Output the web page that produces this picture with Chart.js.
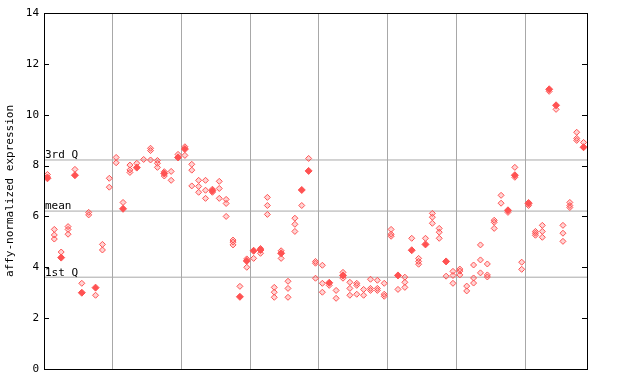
<!DOCTYPE html>
<html>
<head>
<meta charset="utf-8">
<script src="https://cdn.jsdelivr.net/npm/chart.js@4/dist/chart.umd.min.js"></script>
<style>
html,body{margin:0;padding:0;background:#fff;}
#wrap{width:640px;height:384px;position:relative;}
</style>
</head>
<body>
<div id="wrap"><canvas id="c" width="640" height="384"></canvas></div>
<script>
// Sample columns (79 samples), hollow replicate values per sample
const replicateValues = [
  [7.65, 7.55], [5.49, 5.27, 5.11], [4.60], [5.60, 5.49, 5.30], [7.85],
  [3.37], [6.16, 6.06], [2.90], [4.90, 4.68], [7.50, 7.15],
  [8.32, 8.11], [6.55], [8.02, 7.83, 7.73], [8.09], [8.24],
  [8.68, 8.59, 8.22], [8.20, 8.09, 7.93], [7.76, 7.59], [7.77, 7.42], [8.44],
  [8.74, 8.40], [8.05, 7.82, 7.20], [7.42, 7.18, 6.95], [7.42, 7.03, 6.71], [7.07, 6.95],
  [7.38, 7.10, 6.71], [6.67, 6.51, 6.00], [5.07, 4.99, 4.88], [3.25], [4.33, 4.00],
  [4.35], [4.74, 4.55], [6.75, 6.43, 6.08], [3.21, 3.02, 2.82], [4.65, 4.35],
  [3.45, 3.17, 2.82], [5.93, 5.69, 5.41], [6.43], [8.28], [4.23, 4.16, 3.57],
  [4.08, 3.37, 3.02], [3.29], [3.09, 2.78], [3.80, 3.57], [3.41, 3.17, 2.90],
  [3.37, 3.29, 2.94], [3.13, 2.90], [3.53, 3.17, 3.09], [3.49, 3.17, 3.09], [3.37, 2.94, 2.86],
  [5.49, 5.30, 5.22], [3.13], [3.61, 3.41, 3.21], [5.14], [4.35, 4.23, 4.12],
  [5.14], [6.12, 5.97, 5.73], [5.53, 5.38, 5.14], [3.65], [3.84, 3.68, 3.37],
  [3.93, 3.85, 3.70], [3.26, 3.07], [4.09, 3.58, 3.38], [4.88, 4.29, 3.78], [4.13, 3.70, 3.62],
  [5.85, 5.77, 5.53], [6.83, 6.52], [6.16], [7.93, 7.54], [4.20, 3.92],
  [6.55, 6.43], [5.41, 5.34, 5.26], [5.65, 5.41, 5.18], [10.92], [10.21],
  [5.65, 5.34, 5.02], [6.55, 6.43, 6.35], [9.31, 9.07, 8.99], [8.91]
];
// Highlighted (filled) value per sample, null where none
const highlightValues = [
  7.50, null, 4.38, null, 7.62, 3.00, null, 3.20, null, null,
  null, 6.30, null, 7.92, null, null, null, 7.69, null, 8.32,
  8.65, null, null, null, 7.01, null, null, null, 2.84, 4.25,
  4.65, 4.68, null, null, 4.55, null, null, 7.04, 7.79, null,
  null, 3.39, null, 3.68, null, null, null, null, null, null,
  null, 3.68, null, 4.67, null, 4.90, null, null, 4.23, null,
  null, null, null, null, null, null, null, 6.24, 7.62, null,
  6.51, null, null, 11.00, 10.37, null, null, null, 8.72
];
const quartileLabels = ['3rd Q', 'mean', '1st Q'];
const quartileValues = [8.22, 6.21, 3.61];
const yTicks = [0, 2, 4, 6, 8, 10, 12, 14];
const yTitle = 'affy-normalized expression';

const RED = '#ff5252';
const nSamples = replicateValues.length;

const hollowPts = [];
replicateValues.forEach((vals, i) => vals.forEach(v => hollowPts.push({x: i + 0.5, y: v})));
const filledPts = [];
highlightValues.forEach((v, i) => { if (v !== null) filledPts.push({x: i + 0.5, y: v}); });

const lineSets = quartileValues.map(q => ({
  type: 'line',
  data: [{x: 0, y: q}, {x: nSamples, y: q}],
  borderColor: '#a8a8a8', borderWidth: 1, pointRadius: 0, fill: false, order: 3
}));

const framePlugin = {
  id: 'frame',
  afterDatasetsDraw(chart) {
    const {ctx, chartArea: a, scales} = chart;
    ctx.save();
    ctx.strokeStyle = '#000';
    ctx.lineWidth = 1;
    ctx.strokeRect(Math.round(a.left) + 0.5, Math.round(a.top) + 0.5,
                   Math.round(a.right - a.left), Math.round(a.bottom - a.top));
    // inward tick marks on left and right
    yTicks.forEach(t => {
      const y = Math.round(scales.y.getPixelForValue(t)) + 0.5;
      ctx.beginPath();
      ctx.moveTo(a.left, y); ctx.lineTo(a.left + 5, y);
      ctx.moveTo(a.right, y); ctx.lineTo(a.right - 5, y);
      ctx.stroke();
    });
    // quartile labels
    ctx.fillStyle = '#000';
    ctx.font = '11px "DejaVu Sans Mono", monospace';
    ctx.textBaseline = 'bottom';
    ctx.textAlign = 'left';
    quartileLabels.forEach((lab, i) => {
      const y = scales.y.getPixelForValue(quartileValues[i]);
      ctx.fillText(lab, a.left + 1, y + 1);
    });
    ctx.restore();
  }
};

new Chart(document.getElementById('c'), {
  type: 'scatter',
  data: {
    datasets: [
      ...lineSets,
      {
        data: hollowPts, pointStyle: 'rectRot', pointRadius: 3,
        borderColor: RED, borderWidth: 1, backgroundColor: 'rgba(255,82,82,0.25)', order: 2
      },
      {
        data: filledPts, pointStyle: 'rectRot', pointRadius: 3.5,
        borderColor: RED, borderWidth: 1, backgroundColor: RED, order: 1
      }
    ]
  },
  options: {
    responsive: false,
    animation: false,
    devicePixelRatio: 1,
    layout: {padding: {top: 13, right: 53, bottom: 15, left: 0}},
    plugins: {legend: {display: false}, tooltip: {enabled: false}},
    scales: {
      x: {
        type: 'linear', min: 0, max: nSamples,
        ticks: {display: false, stepSize: 10},
        grid: {color: '#a8a8a8', drawTicks: false, lineWidth: 1},
        border: {display: false},
        afterFit(s) { s.height = 0; }
      },
      y: {
        type: 'linear', min: 0, max: 14,
        afterBuildTicks(s) { s.ticks = yTicks.map(v => ({value: v})); },
        ticks: {
          color: '#000', padding: 5,
          font: {family: '"DejaVu Sans Mono", monospace', size: 11}
        },
        grid: {display: false, drawTicks: false},
        border: {display: false},
        title: {
          display: true, text: yTitle, color: '#000',
          font: {family: '"DejaVu Sans Mono", monospace', size: 11},
          padding: {top: 4, bottom: 0}
        },
        afterFit(s) { s.width = 44; }
      }
    }
  },
  plugins: [framePlugin]
});
</script>
</body>
</html>
